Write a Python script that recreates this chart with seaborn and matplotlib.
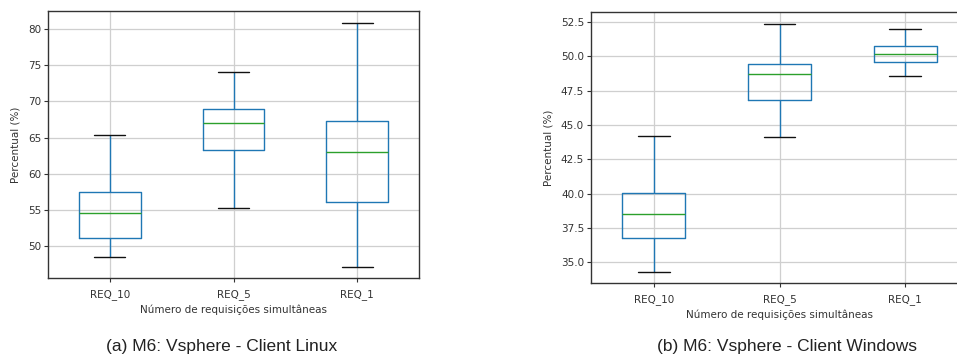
import numpy as np
import pandas as pd
import matplotlib
matplotlib.use("Agg")
import matplotlib.pyplot as plt
import seaborn as sns

categories = ["REQ_10", "REQ_5", "REQ_1"]

# five-number summaries: min, Q1, median, Q3, max
linux_min = [48.5, 55.2, 47.1]
linux_q1 = [51.05, 63.3, 56.05]
linux_median = [54.6, 67.0, 62.96]
linux_q3 = [57.4, 69.0, 67.35]
linux_max = [65.4, 74.0, 80.8]

win_min = [34.31, 44.15, 48.57]
win_q1 = [36.8, 46.84, 49.59]
win_median = [38.52, 48.71, 50.17]
win_q3 = [40.05, 49.44, 50.77]
win_max = [44.22, 52.33, 51.97]

xlabel = "Número de requisições simultâneas"
ylabel = "Percentual (%)"
caption_a = "(a) M6: Vsphere - Client Linux"
caption_b = "(b) M6: Vsphere - Client Windows"


def long_frame(mins, q1s, meds, q3s, maxs):
    rows = []
    for c, a, b, m, d, e in zip(categories, mins, q1s, meds, q3s, maxs):
        for v in (a, b, m, d, e):
            rows.append({"req": c, "value": v})
    return pd.DataFrame(rows)


df_linux = long_frame(linux_min, linux_q1, linux_median, linux_q3, linux_max)
df_win = long_frame(win_min, win_q1, win_median, win_q3, win_max)

sns.set_style("whitegrid", {
    "axes.edgecolor": "#333333",
    "grid.color": "#cfcfcf",
    "xtick.bottom": True,
    "ytick.left": True,
})
plt.rcParams["font.family"] = ["DejaVu Sans"]
plt.rcParams["axes.linewidth"] = 1.0
plt.rcParams["xtick.color"] = "#333333"
plt.rcParams["ytick.color"] = "#333333"
plt.rcParams["xtick.major.size"] = 3
plt.rcParams["ytick.major.size"] = 3

W, H = 957, 358
fig = plt.figure(figsize=(W / 100, H / 100), dpi=100)


def px_axes(x0, y0, x1, y1):
    return fig.add_axes([x0 / W, (H - y1) / H, (x1 - x0) / W, (y1 - y0) / H])


ax1 = px_axes(48, 11, 419, 278)
ax2 = px_axes(591, 12, 968, 283)

box_kw = dict(
    x="req", y="value", order=categories, fill=False, color="#1f77b4",
    width=0.5, whis=(0, 100), linewidth=1.0,
    medianprops={"color": "#2ca02c"},
    capprops={"color": "#111111"},
    whiskerprops={"color": "#1f77b4"},
    showfliers=False,
)

sns.boxplot(data=df_linux, ax=ax1, **box_kw)
sns.boxplot(data=df_win, ax=ax2, **box_kw)

ax1.set_ylim(45.57, 82.5)
ax1.set_yticks([50, 55, 60, 65, 70, 75, 80])
ax2.set_ylim(33.49, 53.23)
ax2.set_yticks([35.0, 37.5, 40.0, 42.5, 45.0, 47.5, 50.0, 52.5])
ax2.set_yticklabels([f"{v:.1f}" for v in [35.0, 37.5, 40.0, 42.5, 45.0, 47.5, 50.0, 52.5]])

for ax in (ax1, ax2):
    ax.set_xlim(-0.5, 2.5)
    ax.grid(True, axis="both", color="#cfcfcf", linewidth=0.9)
    ax.set_axisbelow(True)
    ax.tick_params(axis="y", labelsize=7.5, pad=2)
    ax.tick_params(axis="x", labelsize=7.5, pad=5)
    ax.set_xlabel(xlabel, fontsize=7.5, color="#333333", labelpad=3)
    ax.set_ylabel(ylabel, fontsize=7.5, color="#333333", labelpad=5)
    for s in ax.spines.values():
        s.set_visible(True)
        s.set_color("#333333")

fig.text(222 / W, 1 - 346 / H, caption_a, ha="center", va="center",
         fontsize=12.5, family=["Liberation Sans"], color="#222222")
fig.text(787 / W, 1 - 346 / H, caption_b, ha="center", va="center",
         fontsize=12.5, family=["Liberation Sans"], color="#222222")

fig.savefig("out.png", dpi=100)
